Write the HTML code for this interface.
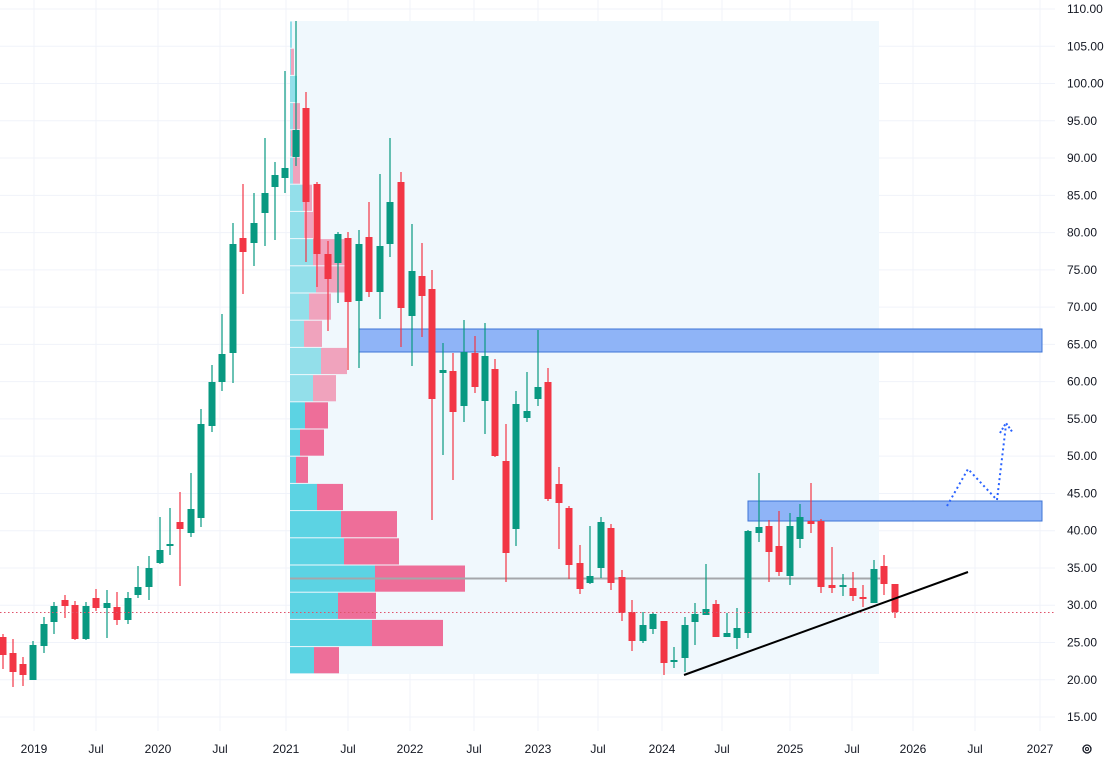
<!DOCTYPE html>
<html><head><meta charset="utf-8">
<style>
html,body{margin:0;padding:0;background:#fff;}
svg{display:block;font-family:"Liberation Sans",sans-serif;}
</style></head>
<body>
<svg id="c" width="1108" height="761" viewBox="0 0 1108 761" xmlns="http://www.w3.org/2000/svg">
<rect width="1108" height="761" fill="#fff"/>
<g id="grid" stroke="#f0f3fa" stroke-width="1"></g>
<rect x="290" y="21" width="589" height="653" fill="#f0f8fd"/>
<g id="prof"></g>
<line x1="290" y1="578.5" x2="880" y2="578.5" stroke="#a5a7ab" stroke-width="2"/>
<rect x="359" y="329" width="683" height="23" fill="#8fb4f7" stroke="#3d74d6" stroke-width="1"/>
<rect x="748" y="501" width="294" height="20" fill="#8fb4f7" stroke="#3d74d6" stroke-width="1"/>
<g id="cand"></g>
<line x1="0" y1="612.5" x2="1055" y2="612.5" stroke="#e0526a" stroke-width="1" stroke-dasharray="1.5,2.5"/>
<line x1="684" y1="675" x2="968" y2="572" stroke="#000" stroke-width="2"/>
<polyline points="947,506 968,469 997,500 1006,425" fill="none" stroke="#2962ff" stroke-width="2" stroke-dasharray="2,3"/>
<polyline points="1000,433 1006,423 1013,433" fill="none" stroke="#2962ff" stroke-width="2" stroke-dasharray="2,2"/>
<g id="ylab" font-size="12" fill="#131722"></g>
<g id="xlab" font-size="12" fill="#131722" text-anchor="middle"></g>
<circle cx="1087" cy="749" r="4" fill="none" stroke="#131722" stroke-width="1.3"/>
<circle cx="1087" cy="749" r="1.5" fill="none" stroke="#131722" stroke-width="1"/>
</svg>
<script>
var NS="http://www.w3.org/2000/svg";
function el(p,t,a,txt){var e=document.createElementNS(NS,t);for(var k in a)e.setAttribute(k,a[k]);if(txt!==undefined)e.textContent=txt;document.getElementById(p).appendChild(e);}
// grid + y labels
for(var p=110;p>=15;p-=5){var y=9+(110-p)*7.453;el("grid","line",{x1:0,y1:y,x2:1055,y2:y});el("ylab","text",{x:1067,y:y+4},p.toFixed(2));}
var xs=[[34,"2019"],[96,"Jul"],[158,"2020"],[220,"Jul"],[286,"2021"],[348,"Jul"],[410,"2022"],[474,"Jul"],[538,"2023"],[598,"Jul"],[662,"2024"],[722,"Jul"],[790,"2025"],[852,"Jul"],[913,"2026"],[975,"Jul"],[1040,"2027"]];
xs.forEach(function(a){el("grid","line",{x1:a[0],y1:0,x2:a[0],y2:731});el("xlab","text",{x:a[0],y:753},a[1]);});
// profile
var rows=[[292,292],[291,294],[297,297],[293,300],[291,300],[293,300],[303,312],[304,313],[313,346],[316,345],[309,331],[304,322],[321,347],[313,336],[305,328],[300,324],[296,308],[317,343],[341,397],[344,399],[375,465],[338,376],[372,443],[314,339]];
rows.forEach(function(r,i){var y=21+i*27.2;var light=i<14;
el("prof","rect",{x:290,y:y+0.5,width:r[0]-290,height:26.2,fill:light?"#93dfea":"#5cd3e3"});
el("prof","rect",{x:r[0],y:y+0.5,width:Math.max(0,r[1]-r[0]),height:26.2,fill:light?"#f0a3bd":"#ee6e99"});});
// candles: x, bodyTop, bodyBot, wickTop, wickBot, up?
var G=1,R=0;
var c=[[3,637,655,634,669,R],[13,653,672,639,687,R],[23,664,675,657,686,R],[33,645,680,641,680,G],[44,624,646,617,653,G],[54,606,622,602,634,G],[65,600,606,595,618,R],[75,605,639,601,640,R],[86,606,639,602,640,G],[96,598,608,589,611,R],[107,603,608,590,638,G],[117,607,620,592,625,R],[128,598,620,592,624,G],[138,587,595,566,598,G],[149,568,587,556,600,G],[160,550,563,517,564,G],[170,544,546,508,555,G],[180,522,529,492,586,R],[191,509,533,473,537,G],[201,424,518,409,527,G],[212,382,426,365,432,G],[222,354,382,314,391,G],[233,244,353,223,383,G],[243,238,252,184,294,R],[254,223,243,193,266,G],[265,193,213,138,246,G],[275,175,187,162,240,G],[285,168,178,71,193,G],[296,130,157,21,166,G],[306,108,202,92,262,R],[317,184,254,182,287,R],[328,254,279,241,331,R],[338,234,263,232,303,G],[348,238,302,232,370,R],[359,244,301,230,368,G],[369,237,292,202,297,R],[380,246,292,174,319,G],[390,202,244,138,257,G],[401,182,308,172,347,R],[412,271,316,224,366,G],[422,276,296,243,337,R],[432,289,399,270,520,R],[443,370,373,343,455,G],[453,371,412,353,480,R],[464,352,406,320,422,G],[475,353,387,336,393,R],[485,356,401,323,434,G],[495,369,456,359,457,R],[506,461,553,424,582,R],[516,404,529,391,546,G],[527,411,418,372,422,G],[538,387,399,330,406,G],[548,382,499,368,501,R],[559,484,503,467,549,R],[569,508,565,506,579,R],[580,563,589,545,594,R],[590,576,583,526,584,G],[601,522,568,517,578,G],[611,528,583,524,590,R],[622,577,613,570,621,R],[632,612,641,600,651,R],[643,625,641,612,643,G],[653,614,629,612,634,G],[664,621,663,621,675,R],[674,660,662,647,668,G],[685,625,658,617,672,G],[695,614,622,603,645,G],[706,609,615,564,615,G],[716,604,637,600,637,R],[727,633,637,613,637,G],[737,628,638,608,649,G],[748,531,633,530,638,G],[759,527,533,473,542,G],[769,526,552,520,582,R],[779,546,572,511,576,R],[790,526,576,513,585,G],[800,517,539,504,548,G],[811,521,524,483,533,R],[821,521,587,519,593,R],[832,585,588,547,593,R],[843,585,587,574,596,G],[853,588,596,572,601,R],[863,597,599,585,607,R],[874,569,603,560,603,G],[884,566,584,555,595,R],[895,584,612,584,618,R]];
c.forEach(function(d){var col=d[5]?"#089981":"#f23645";
el("cand","line",{x1:d[0],y1:d[3],x2:d[0],y2:d[4],stroke:col,"stroke-width":1.2});
el("cand","rect",{x:d[0]-3.5,y:d[1],width:7,height:Math.max(1.5,d[2]-d[1]),fill:col});});
</script>
</body></html>
